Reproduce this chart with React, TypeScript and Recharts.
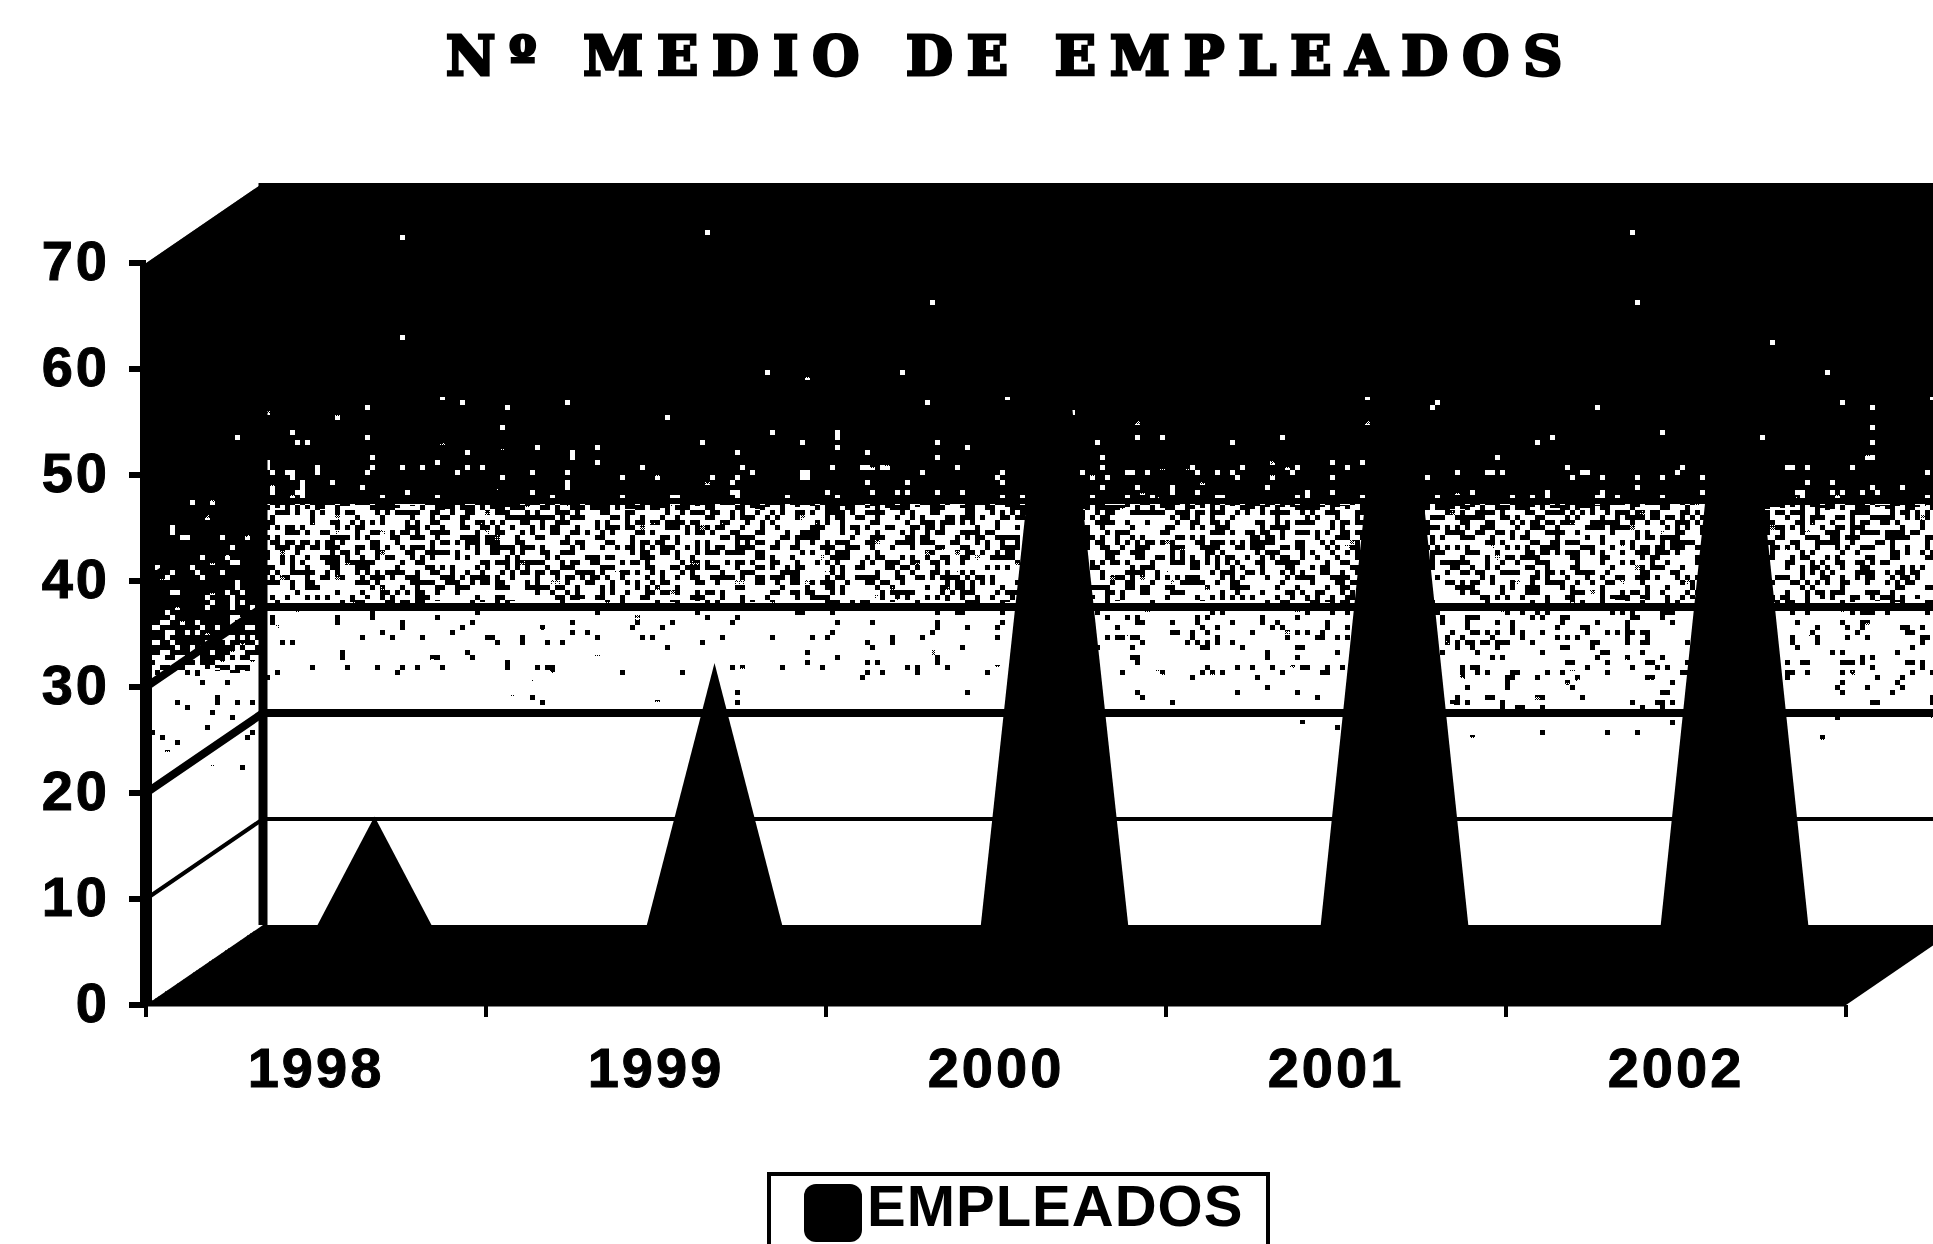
import { ComposedChart, Bar, XAxis, YAxis, Legend, ReferenceArea, ReferenceLine } from "recharts"

const years = ["1998", "1999", "2000", "2001", "2002"]
const empleados = [14, 28.5, 68, 70, 70]
const yTicks = [0, 10, 20, 30, 40, 50, 60, 70]
const wallLines = [
  { level: 10, width: 4 },
  { level: 20, width: 8 },
  { level: 30, width: 8 },
  { level: 40, width: 6 },
  { level: 50, width: 4 },
  { level: 60, width: 4 },
]

const chartData = years.map((year, i) => ({ year, EMPLEADOS: empleados[i] }))

const DEPTH_X = 117
const DEPTH_Y = 80
const MARGIN_LEFT = 146
const MARGIN_RIGHT = 87
const YEAR_BAND = (1933 - MARGIN_LEFT - MARGIN_RIGHT) / years.length
const digits = "'Liberation Sans', Arial, sans-serif"

// wall shading, top to bottom: [offset, lightness]
const backStops = [
  [0, 0.02], [0.1, 0.07], [0.25, 0.12], [0.33, 0.19], [0.43, 0.3], [0.44, 0.52], [0.56, 0.55], [0.57, 0.72], [0.64, 0.75], [0.7, 0.84], [0.74, 0.95], [0.76, 1], [1, 1],
]
const sideStops = [
  [0, 0.02], [0.3, 0.1], [0.42, 0.22], [0.52, 0.36], [0.59, 0.45], [0.6, 0.7], [0.68, 0.76], [0.72, 0.85], [0.74, 1], [1, 1],
]

function gray(v: number) {
  const c = Math.round(v * 255)
  return `rgb(${c},${c},${c})`
}

function Walls({ x, y, width, height }: any) {
  const bx = x + DEPTH_X
  const by = y - DEPTH_Y
  const bottom = y + height
  return (
    <g>
      <defs>
        <linearGradient id="backFade" x1="0" y1="0" x2="0" y2="1">
          {backStops.map(([o, v]) => <stop key={o} offset={o} stopColor={gray(v)} />)}
        </linearGradient>
        <linearGradient id="sideFade" x1="0" y1="0" x2="0" y2="1">
          {sideStops.map(([o, v]) => <stop key={o} offset={o} stopColor={gray(v)} />)}
        </linearGradient>
        <linearGradient id="rightShade" x1="0" y1="0" x2="1" y2="0">
          <stop offset="0.3" stopColor="#000" stopOpacity={0} />
          <stop offset="0.7" stopColor="#000" stopOpacity={0.13} />
        </linearGradient>
        <filter id="dither" filterUnits="userSpaceOnUse" x="0" y="0" width="1933" height="1244" colorInterpolationFilters="sRGB">
          <feTurbulence type="fractalNoise" baseFrequency="0.83" numOctaves="1" seed="7" result="raw" />
          <feColorMatrix in="raw" type="matrix" values="1.4 0 0 0 -0.2  1.4 0 0 0 -0.2  1.4 0 0 0 -0.2  0 0 0 0 1" result="noise" />
          <feFlood x="2" y="2" width="1" height="1" floodColor="#fff" result="dot" />
          <feComposite in="dot" in2="dot" x="0" y="0" width="5" height="5" result="cell" />
          <feTile in="cell" result="grid" />
          <feComposite in="noise" in2="grid" operator="in" result="samples" />
          <feMorphology in="samples" operator="dilate" radius="2" result="blocks" />
          <feComposite in="SourceGraphic" in2="blocks" operator="arithmetic" k1="0" k2="1" k3="1" k4="-0.5" result="sum" />
          <feComponentTransfer in="sum" result="hard">
            <feFuncR type="discrete" tableValues="0 1" />
            <feFuncG type="discrete" tableValues="0 1" />
            <feFuncB type="discrete" tableValues="0 1" />
          </feComponentTransfer>
          <feComposite in="hard" in2="SourceAlpha" operator="in" />
        </filter>
      </defs>
      <g filter="url(#dither)">
        <rect x={bx} y={by} width={width + 20} height={height} fill="url(#backFade)" />
        <rect x={bx} y={by + height * 0.57} width={width + 20} height={height * 0.19} fill="url(#rightShade)" />
      </g>
      <polygon
        points={`${x},${y} ${bx},${by} ${bx},${by + height} ${x},${bottom}`}
        fill="url(#sideFade)"
        filter="url(#dither)"
      />
      <polygon
        points={`${x},${bottom} ${x + width},${bottom} ${x + width + DEPTH_X},${bottom - DEPTH_Y} ${bx},${bottom - DEPTH_Y}`}
        fill="#000"
      />
      <line x1={bx} y1={by} x2={bx} y2={by + height} stroke="#000" strokeWidth={9} />
    </g>
  )
}

function WallLine({ x1, y1, x2, strokeWidth }: any) {
  return (
    <polyline
      points={`${x1},${y1} ${x1 + DEPTH_X},${y1 - DEPTH_Y} ${x2 + DEPTH_X},${y1 - DEPTH_Y}`}
      fill="none"
      stroke="#000"
      strokeWidth={strokeWidth}
    />
  )
}

// cones stand half way back on the floor
function Cone({ x, y, width, height, fill }: any) {
  const dx = DEPTH_X / 2
  const dy = DEPTH_Y / 2
  const base = y + height - dy
  return (
    <polygon
      points={`${x + dx},${base} ${x + width / 2 + dx},${y - dy} ${x + width + dx},${base}`}
      fill={fill}
    />
  )
}

const tickFont = { fill: "#000", stroke: "#000", strokeWidth: 1, fontSize: 56, fontWeight: 700, fontFamily: digits, letterSpacing: 3 }

// tick marks sit between the years, not under them
function YearTick({ x, y, payload, index }: any) {
  return (
    <g>
      <rect x={x - YEAR_BAND / 2 - 2} y={y} width={4} height={12} fill="#000" />
      {index === years.length - 1 && <rect x={x + YEAR_BAND / 2 - 2} y={y} width={4} height={12} fill="#000" />}
      <text x={x} y={y + 62} textAnchor="middle" dominantBaseline="central" {...tickFont}>
        {payload.value}
      </text>
    </g>
  )
}

function ValueTick({ x, y, payload }: any) {
  return (
    <g>
      <rect x={x - 17} y={y - 3} width={17} height={6} fill="#000" />
      <text x={x - 36} y={y - 3} textAnchor="end" dominantBaseline="central" {...tickFont}>
        {payload.value}
      </text>
    </g>
  )
}

function LegendBox() {
  return (
    <div
      style={{
        boxSizing: "border-box",
        width: 503,
        height: 100,
        border: "4px solid #000",
        position: "relative",
        fontFamily: digits,
        fontWeight: 700,
        fontSize: 58,
        lineHeight: "60px",
        color: "#000",
      }}
    >
      <div style={{ position: "absolute", left: 33, top: 8, width: 58, height: 58, borderRadius: 12, background: "#000" }} />
      <div style={{ position: "absolute", left: 96, top: 0, whiteSpace: "nowrap", letterSpacing: 1 }}>EMPLEADOS</div>
    </div>
  )
}

export default function App() {
  return (
    <div style={{ position: "absolute", left: 0, top: 0, width: 1933, height: 1244, overflow: "hidden", background: "#fff" }}>
      <div
        style={{
          position: "absolute",
          left: 446,
          top: 21,
          whiteSpace: "nowrap",
          fontFamily: "'DejaVu Serif', serif",
          fontWeight: 700,
          fontSize: 54,
          lineHeight: "70px",
          letterSpacing: 14,
          WebkitTextStroke: "3px #000",
          color: "#000",
        }}
      >
        Nº MEDIO DE EMPLEADOS
      </div>
      <ComposedChart
        width={1933}
        height={1244}
        data={chartData}
        margin={{ top: 263, right: MARGIN_RIGHT, bottom: 118, left: 0 }}
        barSize={156}
      >
        <ReferenceArea y1={0} y2={70} ifOverflow="visible" shape={Walls} zIndex={-100} />
        {wallLines.map((l) => (
          <ReferenceLine
            key={l.level}
            y={l.level}
            ifOverflow="visible"
            stroke="#000"
            strokeWidth={l.width}
            shape={WallLine}
            zIndex={-50}
          />
        ))}
        <XAxis
          dataKey="year"
          height={121}
          interval={0}
          tickLine={false}
          tickSize={0}
          tickMargin={0}
          axisLine={{ stroke: "#000", strokeWidth: 3 }}
          tick={YearTick}
        />
        <YAxis
          domain={[0, 70]}
          ticks={yTicks}
          width={MARGIN_LEFT}
          interval={0}
          tickSize={0}
          tickMargin={0}
          tickLine={false}
          axisLine={{ stroke: "#000", strokeWidth: 12 }}
          tick={ValueTick}
        />
        <Bar dataKey="EMPLEADOS" fill="#000" shape={Cone} isAnimationActive={false} />
        <Legend
          layout="horizontal"
          verticalAlign="middle"
          align="center"
          content={LegendBox}
          wrapperStyle={{ left: 767, top: 1172, width: 503, height: 100 }}
        />
      </ComposedChart>
    </div>
  )
}
